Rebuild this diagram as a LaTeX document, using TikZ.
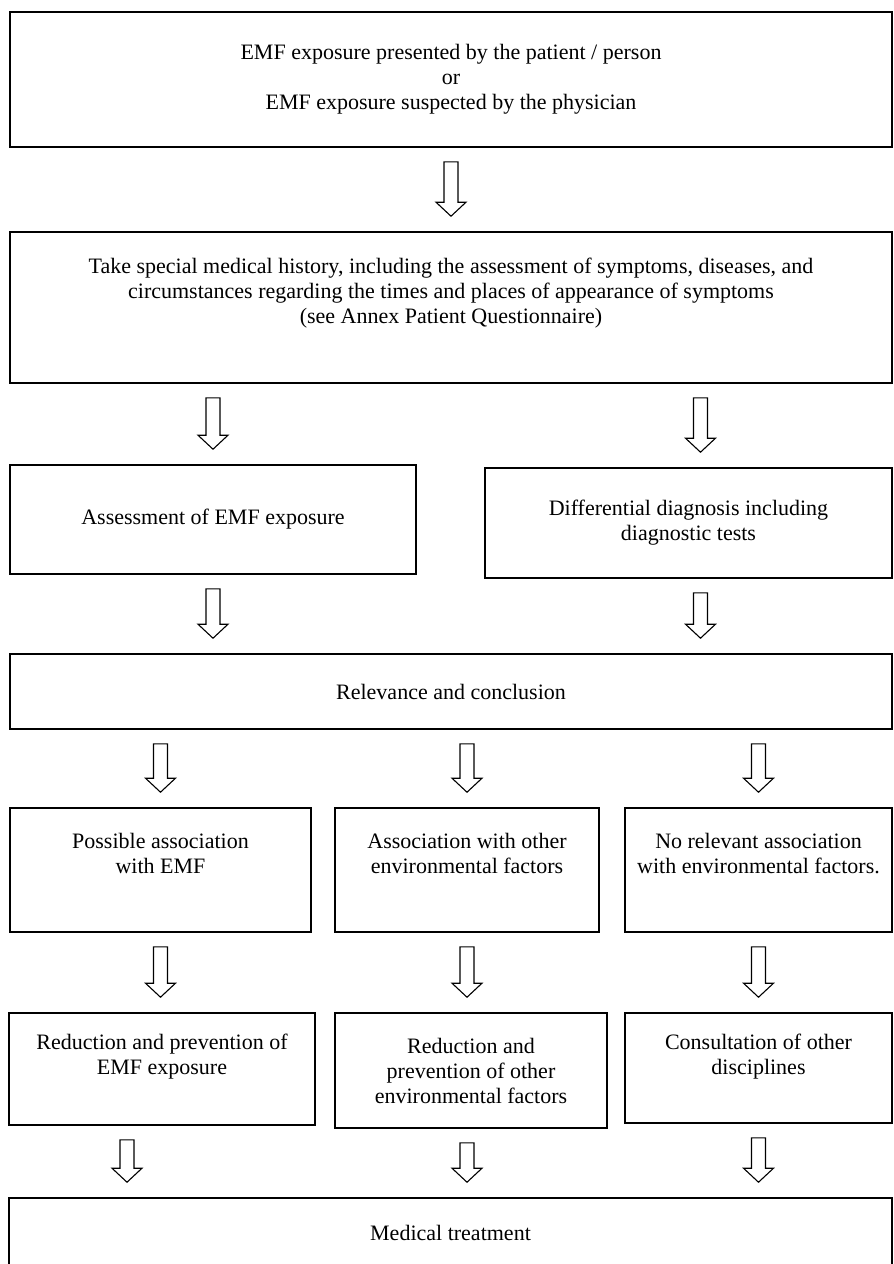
\documentclass[tikz,border=0pt]{standalone}
\usepackage{fontspec}
\setmainfont{Liberation Serif}
\usetikzlibrary{calc,positioning}

\begin{document}
\begin{tikzpicture}[x=1pt,y=-1pt,
    box/.style={draw, line width=1.6pt, align=center, inner sep=0pt, font=\fontsize{22}{25}\selectfont},
    fatarrow/.style={draw, line width=1.1pt, fill=white,
        to path={let \p1=(\tikztostart), \p2=(\tikztotarget) in
            (\x1-7pt,\y1-14pt) -- (\x1+7pt,\y1-14pt) -- (\x1+7pt,\y2+29pt) -- (\x1+15pt,\y2+29pt)
            -- (\x1,\y2+15pt) -- (\x1-15pt,\y2+29pt) -- (\x1-7pt,\y2+29pt) -- cycle}}]
    \useasboundingbox (0,0) rectangle (894,1264);
    \clip (0,0) rectangle (894,1264);

    % Exposure
    \node[box, minimum width=882, minimum height=135] (expo) at (451,79.5)
        {EMF exposure presented by the patient / person\\or\\EMF exposure suspected by the physician};

    % Medical history
    \node[box, minimum width=882, minimum height=151, text depth=34pt] (hist) at (451,307.5)
        {Take special medical history, including the assessment of symptoms, diseases, and\\
         circumstances regarding the times and places of appearance of symptoms\\
         (see Annex Patient Questionnaire)};

    % Assessment and diagnosis
    \node[box, minimum width=406, minimum height=109] (assess) at (213,519.5) {Assessment of EMF exposure};
    \node[box, minimum width=407, minimum height=110] (diag) at (688.5,523)
        {Differential diagnosis including\\diagnostic tests};

    % Conclusion
    \node[box, minimum width=882, minimum height=75] (relev) at (451,691.5) {Relevance and conclusion};

    % Associations
    \node[box, minimum width=301, minimum height=124, text depth=34pt] (possemf) at (160.5,870)
        {Possible association\\with EMF};
    \node[box, minimum width=264, minimum height=124, text depth=34pt] (othenv) at (467,870)
        {Association with other\\environmental factors};
    \node[box, minimum width=267, minimum height=124, text depth=34pt] (norel) at (758.5,870)
        {No relevant association\\with environmental factors.};

    % Measures
    \node[box, minimum width=306, minimum height=112, text depth=29pt] (redemf) at (162,1069)
        {Reduction and prevention of\\EMF exposure};
    \node[box, minimum width=272, minimum height=115] (redoth) at (471,1070.5)
        {Reduction and\\prevention of other\\environmental factors};
    \node[box, minimum width=267, minimum height=110, text depth=27pt] (consult) at (758.5,1068)
        {Consultation of other\\disciplines};

    % Treatment
    \node[box, minimum width=883, minimum height=70] (treat) at (450.5,1233) {Medical treatment};

    % Arrows
    \draw[fatarrow] (expo.south) to (hist.north);
    \draw[fatarrow] (hist.south -| assess.north) to (assess.north);
    \draw[fatarrow] ($(hist.south -| diag.north)+(12,0)$) to (diag.north);
    \draw[fatarrow] (assess.south) to (relev.north);
    \draw[fatarrow] ([xshift=12pt]diag.south) to (relev.north);
    \draw[fatarrow] (relev.south -| possemf.north) to (possemf.north);
    \draw[fatarrow] (relev.south -| othenv.north) to (othenv.north);
    \draw[fatarrow] (relev.south -| norel.north) to (norel.north);
    \draw[fatarrow] (possemf.south) to (redemf.north);
    \draw[fatarrow] (othenv.south) to (redoth.north);
    \draw[fatarrow] (norel.south) to (consult.north);
    \draw[fatarrow] ([xshift=-35pt]redemf.south) to (treat.north);
    \draw[fatarrow] ([xshift=-4pt]redoth.south) to (treat.north);
    \draw[fatarrow] (consult.south) to (treat.north);
\end{tikzpicture}
\end{document}
